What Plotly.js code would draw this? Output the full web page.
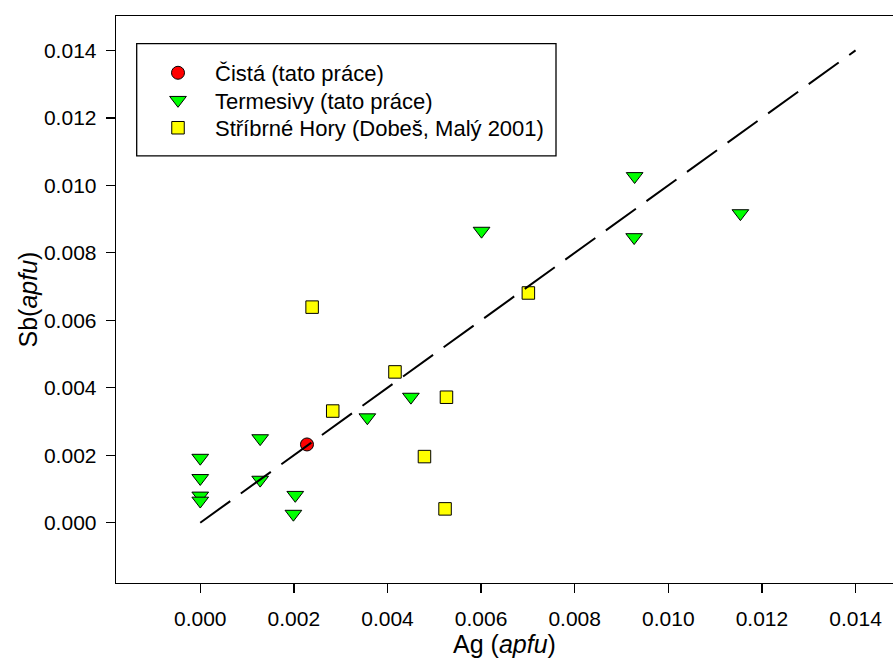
<!DOCTYPE html>
<html>
<head>
<meta charset="utf-8">
<script src="https://cdn.plot.ly/plotly-3.0.1.min.js"></script>
<style>html,body{margin:0;padding:0;background:#fff;}#chart{width:893px;height:658px;}</style>
</head>
<body>
<div id="chart"></div>
<script>
// Čistá (tato práce)
const cistaAg = [0.00228];
const cistaSb = [0.00232];
// Termesivy (tato práce)
const termAg = [0.0000, 0.0000, 0.0000, 0.0000, 0.00128, 0.00128, 0.00203, 0.00199, 0.00357, 0.00450, 0.00601, 0.00927, 0.00928, 0.01154];
const termSb = [0.00192, 0.00132, 0.00080, 0.00065, 0.00250, 0.00127, 0.00082, 0.00026, 0.00312, 0.00373, 0.00865, 0.00846, 0.01027, 0.00917];
// Stříbrné Hory (Dobeš, Malý 2001)
const shAg = [0.00283, 0.00526, 0.00479, 0.00523, 0.00701, 0.00239, 0.00416];
const shSb = [0.00331, 0.00372, 0.00196, 0.00041, 0.00681, 0.00639, 0.00447];
// 1:1 line
const lineAg = [0, 0.014];
const lineSb = [0, 0.014];
const seriesNames = ["Čistá (tato práce)", "Termesivy (tato práce)", "Stříbrné Hory (Dobeš, Malý 2001)"];

const FONT = "Arial, 'Liberation Sans', sans-serif";
const traces = [
  {x: cistaAg, y: cistaSb, type: 'scatter', mode: 'markers', name: seriesNames[0], legend: 'legend',
   marker: {symbol: 'circle', size: 13, color: '#ff0000', line: {color: '#000', width: 1}}},
  {x: termAg, y: termSb, type: 'scatter', mode: 'markers', name: seriesNames[1], legend: 'legend2',
   marker: {symbol: 'triangle-down', size: 14.5, color: '#00ff00', line: {color: '#000', width: 1}}},
  {x: shAg, y: shSb, type: 'scatter', mode: 'markers', name: seriesNames[2], legend: 'legend3',
   marker: {symbol: 'square', size: 12.5, color: '#ffff00', line: {color: '#000', width: 1}}},
  {x: lineAg, y: lineSb, type: 'scatter', mode: 'lines', showlegend: false,
   line: {color: '#000', width: 2, dash: '37px,13px'}}
];

const W = 893, H = 658, L = 116, R = 0, T = 15.7, B = 75;
const pw = W - L - R, ph = H - T - B;
const px2x = p => (p - L) / pw;
const py2y = p => (H - B - p) / ph;

function legendAt(cy) {
  return {
    x: px2x(141), y: py2y(cy), xanchor: 'left', yanchor: 'middle',
    bgcolor: 'rgba(0,0,0,0)', borderwidth: 0,
    font: {family: FONT, size: 22, color: '#000'},
    itemwidth: 64
  };
}

const layout = {
  width: W, height: H,
  margin: {l: L, r: R, t: T, b: B, pad: 0},
  paper_bgcolor: '#fff', plot_bgcolor: '#fff',
  font: {family: FONT, color: '#000'},
  showlegend: true,
  legend: legendAt(72.7),
  legend2: legendAt(100),
  legend3: legendAt(127.7),
  xaxis: {
    range: [-0.0018, 0.0148], tick0: 0, dtick: 0.002, tickformat: '.3f',
    showgrid: false, zeroline: false,
    showline: true, linecolor: '#000', linewidth: 1.3, mirror: true,
    ticks: 'outside', ticklen: 9, tickwidth: 1.3, tickcolor: '#000',
    ticklabelstandoff: 7,
    tickfont: {family: FONT, size: 21, color: '#000'},
    title: {text: 'Ag (<i>apfu</i>)', font: {family: FONT, size: 25, color: '#000'}},
    automargin: false
  },
  yaxis: {
    range: [-0.001787, 0.01502], tick0: 0, dtick: 0.002, tickformat: '.3f',
    showgrid: false, zeroline: false,
    showline: true, linecolor: '#000', linewidth: 1.3, mirror: false,
    ticks: 'outside', ticklen: 9, tickwidth: 1.3, tickcolor: '#000',
    ticklabelstandoff: 5,
    tickfont: {family: FONT, size: 21, color: '#000'},
    title: {text: 'Sb(<i>apfu</i>)', font: {family: FONT, size: 25, color: '#000'}},
    automargin: false
  },
  shapes: [
    {type: 'rect', xref: 'paper', yref: 'paper',
     x0: px2x(136.7), x1: px2x(556), y0: py2y(155.7), y1: py2y(43.3),
     line: {color: '#000', width: 1.3}, fillcolor: 'rgba(0,0,0,0)'}
  ]
};

Plotly.newPlot('chart', traces, layout, {displayModeBar: false, staticPlot: true});
</script>
</body>
</html>
